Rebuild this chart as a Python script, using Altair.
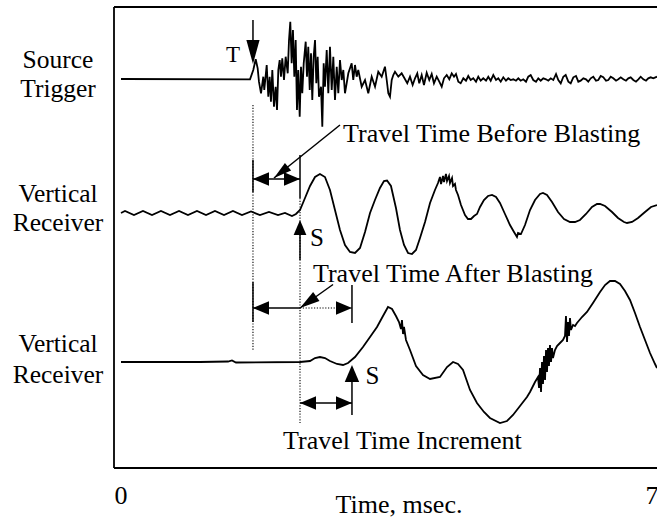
import altair as alt
import pandas as pd

# ---------------- axis extents (msec / stacked amplitude units) ----------------
T_MIN, T_MAX = -0.092, 7.066
V_MIN, V_MAX = 0, 461

# ---------------- traces ----------------
trace_names = ["Source Trigger", "Vertical Receiver (before)", "Vertical Receiver (after)"]
trace_offsets = [389, 255, 106]

src_t = [0.000, 1.701, 1.744, 1.776, 1.802, 1.819, 1.846, 1.876, 1.889, 1.921,
         1.942, 1.960, 1.977, 1.995, 2.017, 2.039, 2.057, 2.074, 2.092, 2.109,
         2.126, 2.149, 2.171, 2.198, 2.215, 2.232, 2.250, 2.267, 2.285, 2.303,
         2.320, 2.337, 2.356, 2.373, 2.390, 2.409, 2.435, 2.452, 2.469, 2.488,
         2.505, 2.522, 2.540, 2.558, 2.575, 2.593, 2.610, 2.637, 2.654, 2.672,
         2.689, 2.712, 2.733, 2.755, 2.778, 2.799, 2.821, 2.844, 2.865, 2.887,
         2.910, 2.931, 2.953, 2.997, 3.041, 3.062, 3.085, 3.107, 3.128, 3.173,
         3.217, 3.260, 3.305, 3.349, 3.392, 3.437, 3.480, 3.503, 3.524, 3.546,
         3.569, 3.590, 3.612, 3.656, 3.700, 3.774, 3.810, 3.845, 3.876, 3.906,
         3.932, 3.964, 3.994, 4.030, 4.064, 4.096, 4.126, 4.162, 4.196, 4.228,
         4.258, 4.294, 4.328, 4.360, 4.390, 4.416, 4.447, 4.478, 4.513, 4.548,
         4.578, 4.610, 4.644, 4.680, 4.710, 4.742, 4.776, 4.812, 4.842, 4.874,
         4.908, 4.944, 4.974, 5.006, 5.040, 5.075, 5.106, 5.137, 5.172, 5.207,
         5.238, 5.269, 5.303, 5.339, 5.369, 5.401, 5.435, 5.471, 5.501, 5.533,
         5.567, 5.603, 5.633, 5.665, 5.699, 5.735, 5.765, 5.797, 5.831, 5.862,
         5.897, 5.928, 5.963, 5.998, 6.029, 6.060, 6.095, 6.130, 6.160, 6.192,
         6.226, 6.262, 6.292, 6.324, 6.358, 6.394, 6.424, 6.456, 6.490, 6.526,
         6.556, 6.588, 6.622, 6.657, 6.688, 6.719, 6.754, 6.789, 6.820, 6.851,
         6.886, 6.921, 6.951, 6.983, 7.017, 7.066]
src_amp = [0, -0.3, 9, 19.7, 10.7, -2.7, -14.3, 2.3, -11, 14,
           -17.7, 2.3, -22.7, 9, -27.7, -7.7, -31, 9, 19, 2.3,
           20.7, -1, 22.3, 5.7, 39, 57.3, 15.7, 49, 2.3, 39,
           -31, 9, -37.7, 12.3, -14.3, 15.7, 37.3, 2.3, 32.3, -11,
           25.7, -21, 22.3, 39, -4.3, 22.3, -17.7, -7.7, -47.7, 15.7,
           -7.7, 29, -14.3, 32.3, -11, 22.3, -21, 12.3, -14.3, 19,
           -1, 9, -14.3, 5.7, 15.7, -1, 14, 2.3, 9, -7.7,
           -1, -14.3, 2.3, -7.7, 7.3, 2.3, 12.3, -1, -14.3, -17.7,
           -1, 4, 7.3, 2.3, 5.7, -4.3, 2.3, -6, 0.7, 5.7,
           -4.3, 4, -6, 6.3, -1, 5, -4.3, 2.3, -2.7, -7.7,
           0.7, 4, -0.3, 5.7, 2.3, 5, -2.7, -4.3, 0.7, -1.7,
           3, -1, 0.7, -2.7, 2.3, -1.7, 0.7, -1.7, 2.3, -1.7,
           4, -1, 0.7, -2.7, 1.7, -1.7, 0.7, -1, -0.3, -1.7,
           0.7, -1.7, -0.3, -2.7, 2.3, 4, -1, -2.7, 0.7, -1.7,
           0.7, -0.3, -1.7, 0.7, -1, 5, -1, -4.3, 2.3, 4,
           -2.7, -4.3, 1.7, 3, -2.7, -1.7, 0.7, -0.3, -2.7, 0.7,
           2.3, -1.7, -1, 3, 1.7, -1.7, -1, 2.3, 0.7, -1.7,
           -0.3, 1.7, -0.3, -1.7, 0.7, 1.7, -1, -2.7, -0.3, 2.3,
           -0.3, -1.7, 0.7, 1.7, 0.7, 2.3]

rx1_t = [0.000, 0.053, 0.171, 0.290, 0.409, 0.527, 0.646, 0.765, 0.883, 1.002,
         1.121, 1.239, 1.358, 1.476, 1.595, 1.714, 1.832, 1.951, 2.070, 2.162,
         2.254, 2.307, 2.360, 2.426, 2.492, 2.558, 2.623, 2.689, 2.755, 2.821,
         2.887, 2.953, 3.019, 3.085, 3.151, 3.217, 3.283, 3.348, 3.414, 3.467,
         3.507, 3.559, 3.625, 3.678, 3.731, 3.784, 3.836, 3.889, 3.942, 4.008,
         4.074, 4.139, 4.179, 4.205, 4.219, 4.245, 4.258, 4.284, 4.298, 4.324,
         4.337, 4.364, 4.377, 4.403, 4.416, 4.443, 4.482, 4.535, 4.574, 4.614,
         4.654, 4.693, 4.733, 4.785, 4.838, 4.891, 4.944, 4.996, 5.062, 5.128,
         5.181, 5.220, 5.234, 5.273, 5.326, 5.392, 5.458, 5.524, 5.563, 5.616,
         5.682, 5.761, 5.840, 5.919, 5.985, 6.051, 6.130, 6.209, 6.275, 6.315,
         6.381, 6.473, 6.552, 6.631, 6.671, 6.737, 6.816, 6.908, 6.987, 7.066]
rx1_amp = [0, 2, -2, 2, -2, 2, -2, 2, -2, 2,
           -2, 2, -2, 2, -2, 1.5, -2, 1, -2, 0,
           -3, -1, 3, 15, 27, 36, 39, 36, 23, 3,
           -17, -32, -39, -40, -35, -19, 0, 13, 25, 32,
           32.5, 27, 5, -17, -32, -40, -41, -37, -25, -9,
           10, 23, 30, 36, 29, 37, 31, 39, 32, 37,
           30, 35, 27, 29, 23, 18, 8, -2, -6, -6,
           -3, -1, 6, 13, 17, 18, 16, 10, -1, -12,
           -19, -24, -20, -21, -12, 3, 13, 19, 20, 18,
           11, 1, -6, -9, -9, -7, -1, 6, 9, 9,
           7, 1, -5, -9, -10, -9, -5, 1, 6, 8]

rx2_t = [0.000, 1.041, 1.411, 1.463, 1.516, 2.360, 2.492, 2.558, 2.623, 2.689,
         2.755, 2.848, 2.927, 2.993, 3.085, 3.190, 3.283, 3.375, 3.454, 3.520,
         3.573, 3.625, 3.665, 3.691, 3.704, 3.718, 3.731, 3.757, 3.810, 3.889,
         3.981, 4.074, 4.205, 4.298, 4.377, 4.443, 4.509, 4.601, 4.693, 4.785,
         4.864, 4.996, 5.089, 5.168, 5.260, 5.352, 5.392, 5.458, 5.497, 5.511,
         5.524, 5.537, 5.550, 5.563, 5.576, 5.590, 5.603, 5.616, 5.629, 5.642,
         5.655, 5.669, 5.682, 5.695, 5.721, 5.748, 5.787, 5.827, 5.853, 5.866,
         5.880, 5.893, 5.906, 5.919, 5.932, 5.959, 5.985, 6.011, 6.077, 6.143,
         6.222, 6.315, 6.381, 6.446, 6.512, 6.578, 6.644, 6.710, 6.776, 6.842,
         6.908, 6.974, 7.040, 7.066]
rx2_amp = [0, 0, 0.5, 1.5, -0.5, 0, 1, 4, 5, 4,
           1, -2, -3, -1, 5, 15, 25, 35, 46, 55,
           53, 46, 40, 33, 42, 28, 35, 22, 12, -4,
           -13, -17, -15, -5, 0, -2, -8, -28, -41, -50,
           -56, -61, -59, -53, -44, -35, -30, -20, -15, -26,
           -6, -30, 0, -22, 6, -18, 12, -10, 14, -4,
           17, 0, 14, 4, 12, 16, 19, 22, 26, 46,
           20, 40, 26, 44, 32, 37, 36, 39, 45, 50,
           59, 70, 77, 81, 81, 78, 71, 62, 49, 35,
           22, 9, -2, -6]

# ---------------- annotation geometry ----------------
# solid segments: (t, v, t2, v2)
seg_solid = [
    (1.740, 448, 1.740, 412),    # T arrow shaft
    (1.740, 308, 1.740, 276),    # before: left bar
    (2.360, 313, 2.360, 270),    # before: right bar
    (1.740, 289, 2.360, 289),    # before: double arrow
    (2.887, 343, 2.017, 290),    # before: leader
    (2.360, 208, 2.360, 240),    # S arrow (upper receiver)
    (1.740, 186, 1.740, 146),    # after: left bar
    (3.045, 183, 3.045, 145),    # after: right bar
    (1.740, 160, 2.360, 160),    # after: double arrow (solid part)
    (2.795, 183.5, 2.360, 160),  # after: leader
    (3.045, 53, 3.045, 95),      # S arrow (lower receiver)
    (2.360, 65, 3.045, 65),      # increment double arrow
]
seg_dotted = [
    (1.740, 363, 1.740, 118),
    (2.360, 270, 2.360, 45),
    (2.360, 160, 3.045, 160),
]
NARROW = "M0,0 L0.55,2 L-0.55,2 Z"
WIDE = "M0,0 L0.85,2 L-0.85,2 Z"
# arrowheads: (t, v, angle, length, shape)
heads = [
    (1.740, 404, 180, 24, NARROW),
    (1.740, 289, 270, 16, WIDE),
    (2.360, 289, 90, 16, WIDE),
    (2.017, 290, 231.3, 18, NARROW),
    (2.360, 248, 0, 15, WIDE),
    (1.740, 160, 270, 16, WIDE),
    (3.045, 160, 90, 16, WIDE),
    (2.360, 160, 234.6, 20, NARROW),
    (3.045, 103, 0, 17, WIDE),
    (2.360, 65, 270, 16, WIDE),
    (3.045, 65, 90, 16, WIDE),
]

# texts
label_text = ["Source", "Trigger", "Vertical", "Receiver", "Vertical", "Receiver",
              "T", "S", "S", "0", "7", "Time, msec."]
label_t = [-0.83, -0.83, -0.83, -0.83, -0.83, -0.83, 1.476, 2.585, 3.316, 0, 7, 3.665]
label_v = [399.7, 371.3, 266, 237.3, 116, 84.7, 406.3, 222, 84, -36, -36, -45]
label_size = [25.5, 25.5, 25.5, 25.5, 25.5, 25.5, 23, 25, 25, 26, 26, 26]

note_text = ["Travel Time Before Blasting", "Travel Time After Blasting", "Travel Time Increment"]
note_t = [2.927, 2.531, 2.136]
note_v = [326.3, 185.7, 18.7]

# ---------------- build tables ----------------
rows = []
for name, off, ts, amps in zip(trace_names, trace_offsets,
                               [src_t, rx1_t, rx2_t], [src_amp, rx1_amp, rx2_amp]):
    for i, (t, a) in enumerate(zip(ts, amps)):
        rows.append({"trace": name, "i": i, "t": t, "v": off + a})
traces = pd.DataFrame(rows)

solid_df = pd.DataFrame(seg_solid, columns=["t", "v", "t2", "v2"])
dotted_df = pd.DataFrame(seg_dotted, columns=["t", "v", "t2", "v2"])
heads_df = pd.DataFrame(heads, columns=["t", "v", "angle", "length", "shape"])
heads_df["size"] = heads_df["length"] ** 2
frame_df = pd.DataFrame({
    "t": [T_MIN, T_MIN, T_MIN],
    "v": [V_MAX, V_MIN, V_MIN],
    "t2": [T_MAX, T_MIN, T_MAX],
    "v2": [V_MAX, V_MAX, V_MIN],
})
labels_df = pd.DataFrame({"text": label_text, "t": label_t, "v": label_v, "size": label_size})
notes_df = pd.DataFrame({"text": note_text, "t": note_t, "v": note_v})

xs = alt.Scale(domain=[T_MIN, T_MAX], nice=False, zero=False)
ys = alt.Scale(domain=[V_MIN, V_MAX], nice=False, zero=False)
X = alt.X("t:Q", scale=xs, axis=None)
Y = alt.Y("v:Q", scale=ys, axis=None)

FONT = "Liberation Serif"

frame = alt.Chart(frame_df).mark_rule(color="black", strokeWidth=1.8).encode(
    x=X, y=Y, x2="t2:Q", y2="v2:Q")

lines = alt.Chart(traces).mark_line(color="black", strokeWidth=1.8).encode(
    x=X, y=Y, detail="trace:N", order="i:Q")

solid = alt.Chart(solid_df).mark_rule(color="black", strokeWidth=1.5).encode(
    x=X, y=Y, x2="t2:Q", y2="v2:Q")

dotted = alt.Chart(dotted_df).mark_rule(color="black", strokeWidth=1.1,
                                        strokeDash=[1.2, 1.6]).encode(
    x=X, y=Y, x2="t2:Q", y2="v2:Q")

arrowheads = alt.Chart(heads_df).mark_point(filled=True, color="black", opacity=1,
                                            strokeWidth=0).encode(
    x=X, y=Y,
    shape=alt.Shape("shape:N", scale=None),
    angle=alt.Angle("angle:Q", scale=None),
    size=alt.Size("size:Q", scale=None),
)

labels = alt.Chart(labels_df).mark_text(font=FONT, align="center", baseline="alphabetic",
                                        color="black").encode(
    x=X, y=Y, text="text:N", size=alt.Size("size:Q", scale=None))

notes = alt.Chart(notes_df).mark_text(font=FONT, fontSize=26, align="left",
                                      baseline="alphabetic", color="black").encode(
    x=X, y=Y, text="text:N")

chart = alt.layer(frame, lines, dotted, solid, arrowheads, labels, notes).properties(
    width=543, height=461,
    padding={"left": 114, "top": 7, "right": 0, "bottom": 54},
    autosize=alt.AutoSizeParams(type="none"),
    background="white",
).configure_view(strokeWidth=0)

chart.save("out.html", embed_options={"renderer": "svg", "actions": False})
